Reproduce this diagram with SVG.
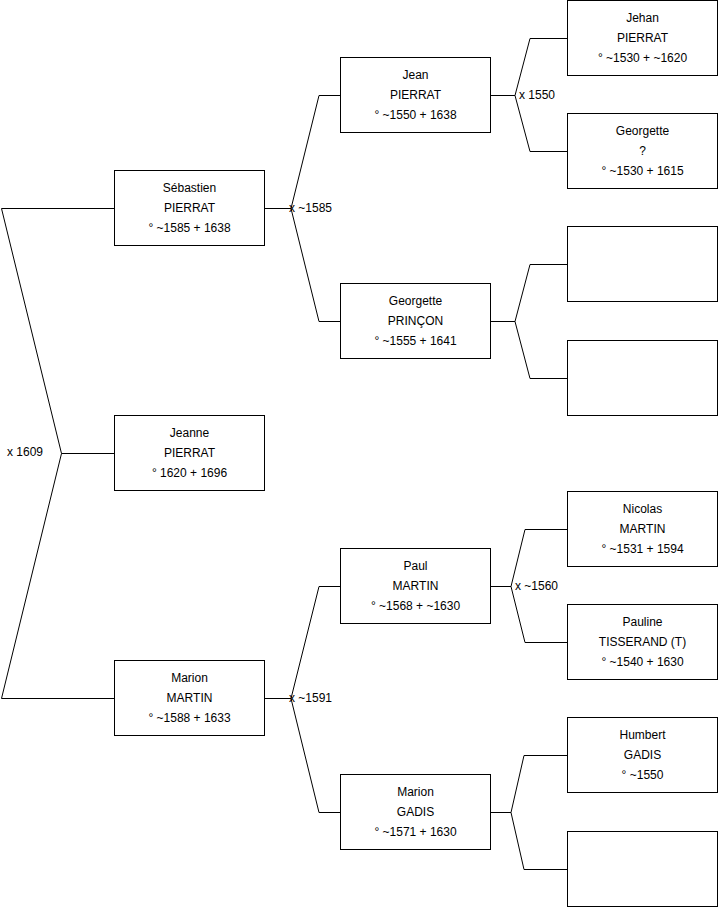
<svg xmlns="http://www.w3.org/2000/svg" width="719" height="908" viewBox="0 0 719 908">
<style>
.box{fill:#fff;stroke:#000;stroke-width:1}
.ln{fill:none;stroke:#000;stroke-width:1}
text{font-family:"Liberation Sans",Arial,sans-serif;font-size:12px;fill:#000}
.c{text-anchor:middle}
</style>
<rect width="719" height="908" fill="#fff"/>
<g id="connectors">
<polyline class="ln" points="114.5,208.5 1.5,208.5 61.5,453.5 1.5,698.5 114.5,698.5"/>
<line class="ln" x1="61.5" y1="453.5" x2="114.5" y2="453.5"/>
<line class="ln" x1="264.5" y1="208.5" x2="291" y2="208.5"/>
<polyline class="ln" points="340.5,95.5 319,95.5 291,208.5 319,321.5 340.5,321.5"/>
<line class="ln" x1="264.5" y1="698.5" x2="291" y2="698.5"/>
<polyline class="ln" points="340.5,586.5 319,586.5 291,698.5 319,812.5 340.5,812.5"/>
<line class="ln" x1="490.5" y1="95.5" x2="515" y2="95.5"/>
<polyline class="ln" points="567.5,38.5 530,38.5 515,95.5 530,151.5 567.5,151.5"/>
<line class="ln" x1="490.5" y1="321.5" x2="515" y2="321.5"/>
<polyline class="ln" points="567.5,264.5 530,264.5 515,321.5 530,378.5 567.5,378.5"/>
<line class="ln" x1="490.5" y1="586.5" x2="511" y2="586.5"/>
<polyline class="ln" points="567.5,529.5 525,529.5 511,586.5 525,642.5 567.5,642.5"/>
<line class="ln" x1="490.5" y1="812.5" x2="511" y2="812.5"/>
<polyline class="ln" points="567.5,755.5 524,755.5 511,812.5 524,869.5 567.5,869.5"/>
<text x="7" y="456">x 1609</text>
<text x="289" y="212">x ~1585</text>
<text x="289" y="702">x ~1591</text>
<text x="519" y="99">x 1550</text>
<text x="515" y="590">x ~1560</text>
</g>
<g id="sebastien"><rect class="box" x="114.5" y="170.5" width="150" height="75"/><text class="c" x="189.5" y="192">Sébastien</text><text class="c" x="189.5" y="212">PIERRAT</text><text class="c" x="189.5" y="232">° ~1585 + 1638</text></g>
<g id="jeanne"><rect class="box" x="114.5" y="415.5" width="150" height="75"/><text class="c" x="189.5" y="437">Jeanne</text><text class="c" x="189.5" y="457">PIERRAT</text><text class="c" x="189.5" y="477">° 1620 + 1696</text></g>
<g id="marion-martin"><rect class="box" x="114.5" y="660.5" width="150" height="75"/><text class="c" x="189.5" y="682">Marion</text><text class="c" x="189.5" y="702">MARTIN</text><text class="c" x="189.5" y="722">° ~1588 + 1633</text></g>
<g id="jean"><rect class="box" x="340.5" y="57.5" width="150" height="75"/><text class="c" x="415.5" y="79">Jean</text><text class="c" x="415.5" y="99">PIERRAT</text><text class="c" x="415.5" y="119">° ~1550 + 1638</text></g>
<g id="georgette-princon"><rect class="box" x="340.5" y="283.5" width="150" height="75"/><text class="c" x="415.5" y="305">Georgette</text><text class="c" x="415.5" y="325">PRINÇON</text><text class="c" x="415.5" y="345">° ~1555 + 1641</text></g>
<g id="paul"><rect class="box" x="340.5" y="548.5" width="150" height="75"/><text class="c" x="415.5" y="570">Paul</text><text class="c" x="415.5" y="590">MARTIN</text><text class="c" x="415.5" y="610">° ~1568 + ~1630</text></g>
<g id="marion-gadis"><rect class="box" x="340.5" y="774.5" width="150" height="75"/><text class="c" x="415.5" y="796">Marion</text><text class="c" x="415.5" y="816">GADIS</text><text class="c" x="415.5" y="836">° ~1571 + 1630</text></g>
<g id="jehan"><rect class="box" x="567.5" y="0.5" width="150" height="75"/><text class="c" x="642.5" y="22">Jehan</text><text class="c" x="642.5" y="42">PIERRAT</text><text class="c" x="642.5" y="62">° ~1530 + ~1620</text></g>
<g id="georgette"><rect class="box" x="567.5" y="113.5" width="150" height="75"/><text class="c" x="642.5" y="135">Georgette</text><text class="c" x="642.5" y="155">?</text><text class="c" x="642.5" y="175">° ~1530 + 1615</text></g>
<g id="empty1"><rect class="box" x="567.5" y="226.5" width="150" height="75"/></g>
<g id="empty2"><rect class="box" x="567.5" y="340.5" width="150" height="75"/></g>
<g id="nicolas"><rect class="box" x="567.5" y="491.5" width="150" height="75"/><text class="c" x="642.5" y="513">Nicolas</text><text class="c" x="642.5" y="533">MARTIN</text><text class="c" x="642.5" y="553">° ~1531 + 1594</text></g>
<g id="pauline"><rect class="box" x="567.5" y="604.5" width="150" height="75"/><text class="c" x="642.5" y="626">Pauline</text><text class="c" x="642.5" y="646">TISSERAND (T)</text><text class="c" x="642.5" y="666">° ~1540 + 1630</text></g>
<g id="humbert"><rect class="box" x="567.5" y="717.5" width="150" height="75"/><text class="c" x="642.5" y="739">Humbert</text><text class="c" x="642.5" y="759">GADIS</text><text class="c" x="642.5" y="779">° ~1550</text></g>
<g id="empty3"><rect class="box" x="567.5" y="831.5" width="150" height="75"/></g>
</svg>
